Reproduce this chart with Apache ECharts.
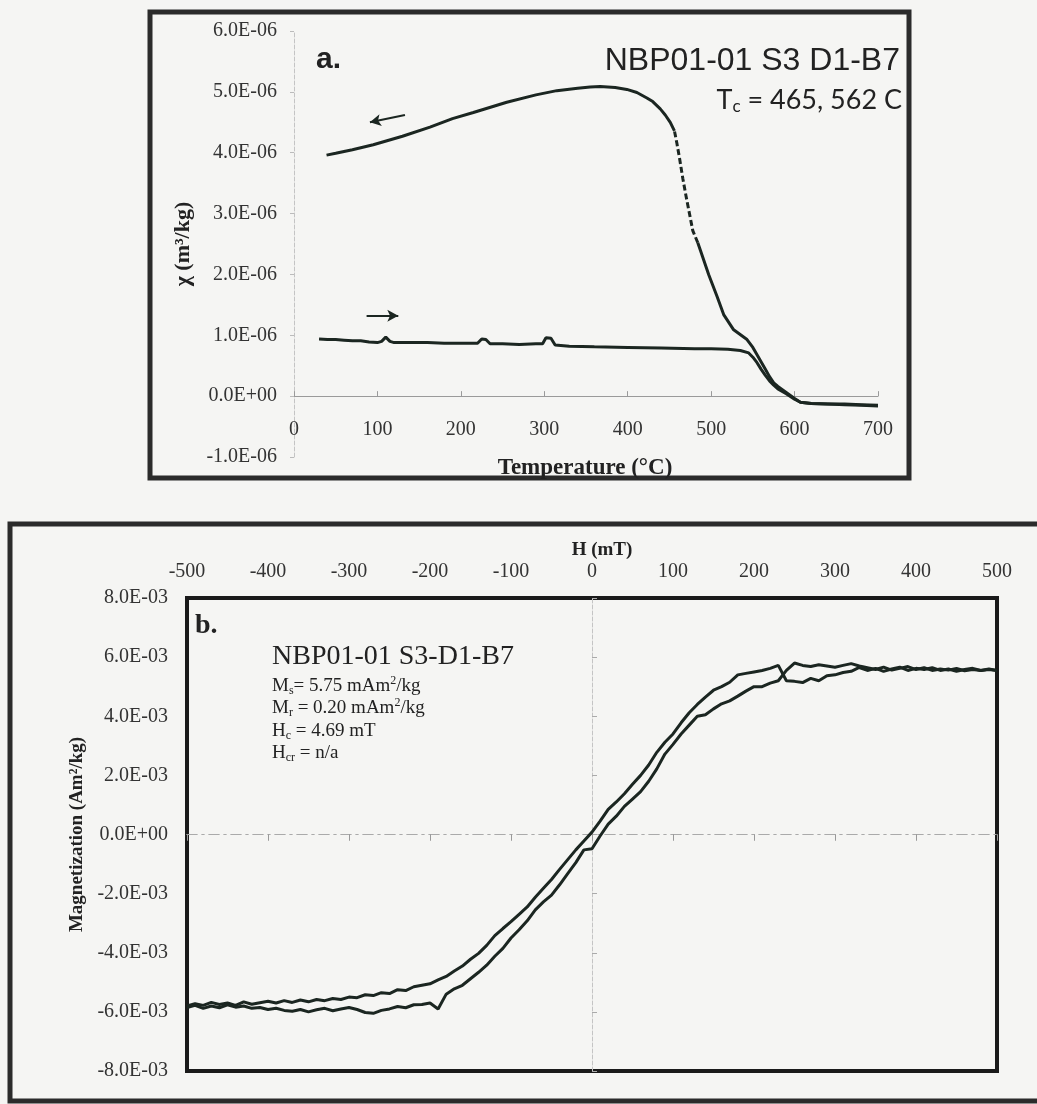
<!DOCTYPE html>
<html>
<head>
<meta charset="utf-8">
<script src="https://cdn.jsdelivr.net/npm/echarts@6/dist/echarts.min.js"></script>
<style>
html,body{margin:0;padding:0;background:#f5f5f3;}
#chart{width:1037px;height:1104px;}
</style>
</head>
<body>
<div id="chart"></div>
<script>
// ---------- Panel a: susceptibility vs temperature (chi in units of 1e-6 m3/kg) ----------
const heatT   = [30,40,50,60,70,80,90,100,105,110,115,120,140,160,180,200,220,225,230,235,250,270,290,298,302,308,313,330,360,400,440,480,500,520,535,545,550,555,560,565,570,575,580,590,600,607,620,640,660,680,700];
const heatChi = [0.94,0.93,0.93,0.92,0.91,0.91,0.89,0.88,0.90,0.97,0.90,0.88,0.88,0.88,0.87,0.87,0.87,0.94,0.93,0.86,0.86,0.85,0.86,0.86,0.96,0.95,0.84,0.82,0.81,0.80,0.79,0.78,0.78,0.77,0.75,0.71,0.64,0.55,0.44,0.34,0.25,0.18,0.12,0.04,-0.05,-0.10,-0.12,-0.13,-0.13,-0.14,-0.15];

const coolHighT   = [700,680,660,640,620,607,600,590,580,575,570,565,560,555,550,543,527,515,507,497,487,484];
const coolHighChi = [-0.16,-0.15,-0.14,-0.13,-0.12,-0.10,-0.04,0.06,0.16,0.22,0.32,0.44,0.56,0.68,0.80,0.93,1.09,1.34,1.64,2.00,2.40,2.52];

const coolDashT   = [484,481,478,474,470,466,462,459,456];
const coolDashChi = [2.52,2.62,2.72,3.00,3.28,3.58,3.92,4.15,4.36];

const coolLowT   = [456,451,445,439,430,423,411,399,385,367,355,340,315,290,255,215,190,163,130,95,70,50,39];
const coolLowChi = [4.36,4.50,4.62,4.72,4.84,4.90,4.99,5.04,5.07,5.09,5.08,5.06,5.02,4.95,4.83,4.66,4.56,4.42,4.27,4.13,4.05,3.99,3.96];

// ---------- Panel b: hysteresis loop (M in units of 1e-3 Am2/kg) ----------
const hystH = [-500,-490,-480,-470,-460,-450,-440,-430,-420,-410,
               -400,-390,-380,-370,-360,-350,-340,-330,-320,-310,
               -300,-290,-280,-270,-260,-250,-240,-230,-220,-210,
               -200,-190,-180,-170,-160,-150,-140,-130,-120,-110,
               -100,-90,-80,-70,-60,-50,-40,-30,-20,-10,
               0,10,20,30,40,50,60,70,80,90,
               100,110,120,130,140,150,160,170,180,190,
               200,210,220,230,240,250,260,270,280,290,
               300,310,320,330,340,350,360,370,380,390,
               400,410,420,430,440,450,460,470,480,490,500];
const hystUpper = [-5.80,-5.72,-5.78,-5.68,-5.75,-5.70,-5.78,-5.66,-5.74,-5.69,
                   -5.64,-5.70,-5.62,-5.68,-5.60,-5.66,-5.58,-5.62,-5.55,-5.58,
                   -5.50,-5.52,-5.42,-5.45,-5.35,-5.38,-5.25,-5.28,-5.15,-5.10,
                   -5.05,-4.92,-4.80,-4.62,-4.45,-4.22,-4.02,-3.75,-3.42,-3.18,
                   -2.95,-2.70,-2.45,-2.12,-1.82,-1.52,-1.18,-0.85,-0.52,-0.22,
                   0.08,0.45,0.85,1.10,1.38,1.70,2.00,2.35,2.78,3.12,
                   3.40,3.78,4.12,4.40,4.65,4.88,5.00,5.15,5.40,5.45,
                   5.50,5.55,5.62,5.72,5.20,5.18,5.14,5.28,5.20,5.37,
                   5.40,5.48,5.52,5.65,5.55,5.62,5.52,5.60,5.66,5.55,
                   5.62,5.58,5.64,5.55,5.60,5.52,5.58,5.62,5.55,5.58,5.55];
const hystLower = [-5.85,-5.78,-5.88,-5.80,-5.86,-5.76,-5.84,-5.80,-5.88,-5.85,
                   -5.92,-5.88,-5.95,-5.98,-5.92,-6.00,-5.93,-5.88,-5.96,-5.90,
                   -5.85,-5.92,-6.02,-6.05,-5.95,-5.90,-5.82,-5.86,-5.76,-5.75,
                   -5.70,-5.90,-5.40,-5.22,-5.10,-4.88,-4.66,-4.42,-4.12,-3.85,
                   -3.50,-3.22,-2.92,-2.55,-2.28,-2.05,-1.70,-1.32,-0.95,-0.52,
                   -0.48,-0.05,0.35,0.62,0.95,1.20,1.45,1.80,2.22,2.72,
                   3.05,3.40,3.70,4.00,4.05,4.25,4.42,4.52,4.68,4.85,
                   5.00,5.00,5.12,5.20,5.55,5.80,5.72,5.68,5.74,5.70,
                   5.66,5.72,5.78,5.70,5.64,5.58,5.66,5.56,5.62,5.68,
                   5.58,5.64,5.55,5.60,5.56,5.62,5.54,5.58,5.55,5.60,5.55];

function zip(xs, ys){ return xs.map((x,i)=>[x, ys[i]]); }
function fmtE(v){
  if (Math.abs(v) < 1e-15) v = 0;
  const parts = v.toExponential(1).split('e');
  const e = parseInt(parts[1], 10);
  return parts[0] + 'E' + (e < 0 ? '-' : '+') + String(Math.abs(e)).padStart(2, '0');
}

const INK = '#1b2621';
const SERIF = '"Liberation Serif", "Times New Roman", serif';
const SANS = '"Liberation Sans", Arial, sans-serif';
const ZERO_LINE = {color: '#aaaaaa', width: 1, type: [10, 5, 2, 5]};

const chart = echarts.init(document.getElementById('chart'), null, {renderer: 'canvas'});
const option = {
  animation: false,
  backgroundColor: '#f5f5f3',
  grid: [
    {left: 294, top: 31, right: 159, bottom: 647, containLabel: false},
    {left: 187, top: 598, right: 40, bottom: 33, containLabel: false, show: true,
     borderColor: '#1a1a1a', borderWidth: 4, backgroundColor: 'transparent'}
  ],
  xAxis: [
    // 0: panel a tick labels (placed just under the zero line)
    {gridIndex: 0, type: 'value', min: 0, max: 700, interval: 100, position: 'bottom', offset: -37,
     axisLine: {show: false, onZero: false}, axisTick: {show: false},
     axisLabel: {margin: 0, fontFamily: SERIF, fontSize: 20, color: '#333'},
     splitLine: {show: false}},
    // 1: panel a zero line with ticks
    {gridIndex: 0, type: 'value', min: 0, max: 700, interval: 100,
     axisLine: {show: true, onZero: true, onZeroAxisIndex: 0, lineStyle: {color: '#9a9a9a', width: 1}},
     axisTick: {show: true, length: 5, lineStyle: {color: '#9a9a9a'}},
     axisLabel: {show: false}, splitLine: {show: false}},
    // 2: panel b tick labels at top
    {gridIndex: 1, type: 'value', min: -500, max: 500, interval: 100, position: 'top',
     axisLine: {show: false, onZero: false}, axisTick: {show: false},
     axisLabel: {margin: 16, fontFamily: SERIF, fontSize: 20, color: '#333'},
     splitLine: {show: false}},
    // 3,4: panel b zero line with crossing ticks
    {gridIndex: 1, type: 'value', min: -500, max: 500, interval: 100,
     axisLine: {show: true, onZero: true, onZeroAxisIndex: 2, lineStyle: ZERO_LINE},
     axisTick: {show: true, inside: false, length: 6, lineStyle: {color: '#999'}},
     axisLabel: {show: false}, splitLine: {show: false}},
    {gridIndex: 1, type: 'value', min: -500, max: 500, interval: 100,
     axisLine: {show: true, onZero: true, onZeroAxisIndex: 2, lineStyle: ZERO_LINE},
     axisTick: {show: true, inside: true, length: 6, lineStyle: {color: '#999'}},
     axisLabel: {show: false}, splitLine: {show: false}}
  ],
  yAxis: [
    {gridIndex: 0, type: 'value', min: -1, max: 6, interval: 1,
     axisLine: {show: true, onZero: true, onZeroAxisIndex: 1, lineStyle: {color: '#c4c4c4', type: 'dashed'}},
     axisTick: {show: true, length: 4, lineStyle: {color: '#bbb'}},
     axisLabel: {margin: 17, fontFamily: SERIF, fontSize: 20, color: '#333', formatter: v => fmtE(v * 1e-6)},
     splitLine: {show: false},
     name: 'χ (m³/kg)', nameLocation: 'middle', nameGap: 100, nameRotate: 90,
     nameTextStyle: {fontFamily: SERIF, fontWeight: 'bold', fontSize: 22, color: '#222'}},
    {gridIndex: 1, type: 'value', min: -8, max: 8, interval: 2, position: 'left',
     axisLine: {show: false, onZero: false}, axisTick: {show: false},
     axisLabel: {margin: 19, fontFamily: SERIF, fontSize: 20, color: '#333', formatter: v => fmtE(v * 1e-3)},
     splitLine: {show: false},
     name: 'Magnetization (Am²/kg)', nameLocation: 'middle', nameGap: 96, nameRotate: 90,
     nameTextStyle: {fontFamily: SERIF, fontWeight: 'bold', fontSize: 19, color: '#222'}},
    {gridIndex: 1, type: 'value', min: -8, max: 8, interval: 2,
     axisLine: {show: true, onZero: true, onZeroAxisIndex: 3, lineStyle: {color: '#c4c4c4', type: 'dashed'}},
     axisTick: {show: true, length: 5, lineStyle: {color: '#aaa'}},
     axisLabel: {show: false}, splitLine: {show: false}}
  ],
  series: [
    {type: 'line', name: 'heating', xAxisIndex: 0, yAxisIndex: 0, data: zip(heatT, heatChi),
     showSymbol: false, lineStyle: {color: INK, width: 3}, z: 5,
     markLine: {silent: true, symbol: ['none', 'arrow'], symbolSize: [9, 11], label: {show: false},
       lineStyle: {color: INK, width: 2, type: 'solid'},
       data: [
         [{coord: [133, 4.62]}, {coord: [91, 4.50]}],
         [{coord: [87, 1.32]}, {coord: [125, 1.32]}]
       ]}},
    {type: 'line', name: 'cooling', xAxisIndex: 0, yAxisIndex: 0, data: zip(coolHighT, coolHighChi),
     showSymbol: false, lineStyle: {color: INK, width: 3}, z: 5},
    {type: 'line', name: 'cooling (dashed)', xAxisIndex: 0, yAxisIndex: 0, data: zip(coolDashT, coolDashChi),
     showSymbol: false, lineStyle: {color: INK, width: 3, type: [6, 3]}, z: 5},
    {type: 'line', name: 'cooling low', xAxisIndex: 0, yAxisIndex: 0, data: zip(coolLowT, coolLowChi),
     showSymbol: false, lineStyle: {color: INK, width: 3}, z: 5},
    {type: 'line', name: 'upper branch', xAxisIndex: 2, yAxisIndex: 1, data: zip(hystH, hystUpper),
     showSymbol: false, lineStyle: {color: INK, width: 3}, z: 5},
    {type: 'line', name: 'lower branch', xAxisIndex: 2, yAxisIndex: 1, data: zip(hystH, hystLower),
     showSymbol: false, lineStyle: {color: INK, width: 3}, z: 5}
  ],
  graphic: [
    {type: 'rect', shape: {x: 150, y: 12, width: 759, height: 466}, style: {fill: 'none', stroke: '#2b2b2b', lineWidth: 5}, silent: true},
    {type: 'rect', shape: {x: 10, y: 524, width: 1045, height: 577}, style: {fill: 'none', stroke: '#2b2b2b', lineWidth: 5}, silent: true},
    {type: 'text', x: 585, y: 468, style: {text: 'Temperature (°C)', font: 'bold 23px ' + SERIF, fill: '#222', align: 'center', verticalAlign: 'middle'}},
    {type: 'text', x: 602, y: 550, style: {text: 'H (mT)', font: 'bold 19px ' + SERIF, fill: '#222', align: 'center', verticalAlign: 'middle'}},
    {type: 'text', x: 316, y: 60, style: {text: 'a.', font: 'bold 30px ' + SANS, fill: '#222', verticalAlign: 'middle'}},
    {type: 'text', x: 900, y: 61, style: {text: 'NBP01-01 S3 D1-B7', font: '32px ' + SANS, fill: '#222', align: 'right', verticalAlign: 'middle'}},
    {type: 'text', x: 902, y: 100, style: {
      text: '{m|T}{s|c}{m| = 465, 562 C}', align: 'right', verticalAlign: 'middle',
      rich: {m: {fontFamily: 'Lato', fontSize: 27, lineHeight: 30, fill: '#222', verticalAlign: 'middle'},
             s: {fontFamily: 'Lato', fontSize: 17, lineHeight: 14, fill: '#222', verticalAlign: 'bottom'}}}},
    {type: 'text', x: 195, y: 626, style: {text: 'b.', font: 'bold 28px ' + SERIF, fill: '#222', verticalAlign: 'middle'}},
    {type: 'text', x: 272, y: 657, style: {text: 'NBP01-01 S3-D1-B7', font: '28px ' + SERIF, fill: '#222', verticalAlign: 'middle'}},
    {type: 'text', x: 272, y: 686, style: {
      text: '{m|M}{s|s}{m|= 5.75 mAm}{p|2}{m|/kg}', verticalAlign: 'middle',
      rich: {m: {fontFamily: SERIF, fontSize: 19, lineHeight: 22, fill: '#222', verticalAlign: 'middle'},
             s: {fontFamily: SERIF, fontSize: 12, lineHeight: 10, fill: '#222', verticalAlign: 'bottom'},
             p: {fontFamily: SERIF, fontSize: 12, lineHeight: 12, fill: '#222', verticalAlign: 'top'}}}},
    {type: 'text', x: 272, y: 708, style: {
      text: '{m|M}{s|r}{m| = 0.20 mAm}{p|2}{m|/kg}', verticalAlign: 'middle',
      rich: {m: {fontFamily: SERIF, fontSize: 19, lineHeight: 22, fill: '#222', verticalAlign: 'middle'},
             s: {fontFamily: SERIF, fontSize: 12, lineHeight: 10, fill: '#222', verticalAlign: 'bottom'},
             p: {fontFamily: SERIF, fontSize: 12, lineHeight: 12, fill: '#222', verticalAlign: 'top'}}}},
    {type: 'text', x: 272, y: 731, style: {
      text: '{m|H}{s|c}{m| = 4.69 mT}', verticalAlign: 'middle',
      rich: {m: {fontFamily: SERIF, fontSize: 19, lineHeight: 22, fill: '#222', verticalAlign: 'middle'},
             s: {fontFamily: SERIF, fontSize: 12, lineHeight: 10, fill: '#222', verticalAlign: 'bottom'}}}},
    {type: 'text', x: 272, y: 753, style: {
      text: '{m|H}{s|cr}{m| = n/a}', verticalAlign: 'middle',
      rich: {m: {fontFamily: SERIF, fontSize: 19, lineHeight: 22, fill: '#222', verticalAlign: 'middle'},
             s: {fontFamily: SERIF, fontSize: 12, lineHeight: 10, fill: '#222', verticalAlign: 'bottom'}}}}
  ]
};
chart.setOption(option);
</script>
</body>
</html>
